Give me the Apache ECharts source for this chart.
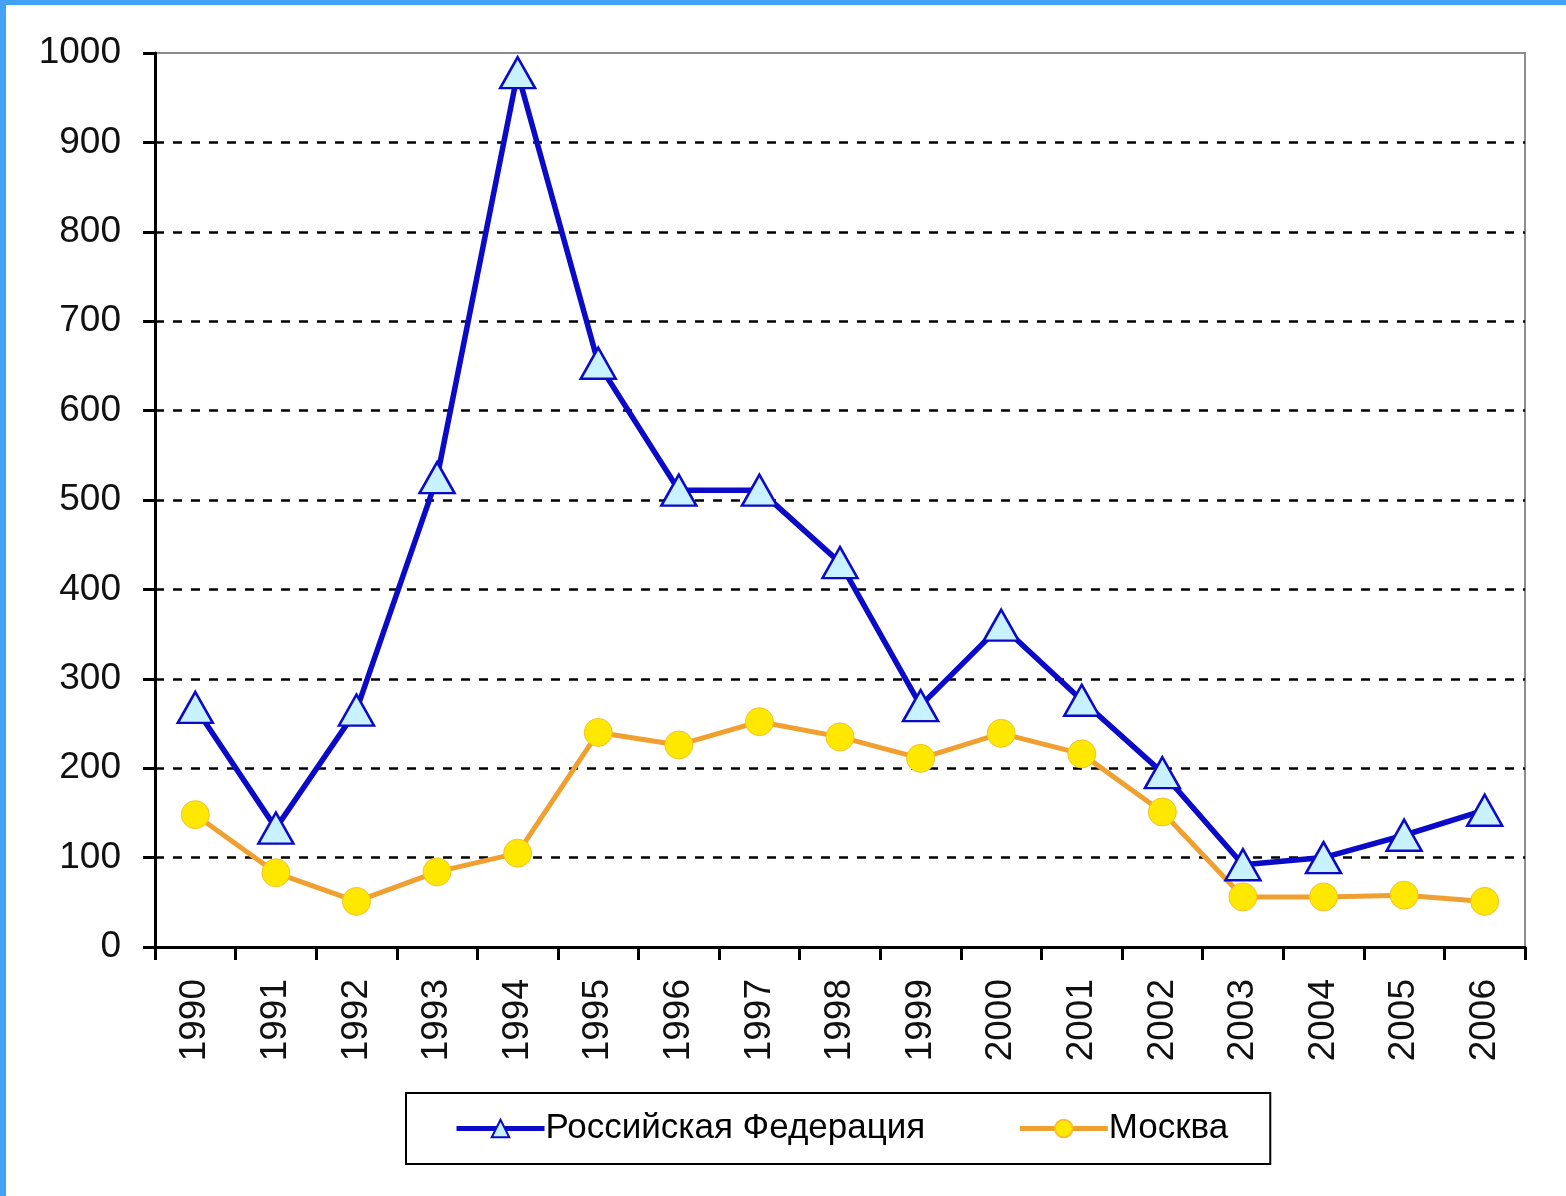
<!DOCTYPE html>
<html>
<head>
<meta charset="utf-8">
<script src="https://cdn.jsdelivr.net/npm/echarts@6/dist/echarts.min.js"></script>
<style>
  html, body { margin: 0; padding: 0; background: #fff; }
  #chart { width: 1566px; height: 1196px; }
</style>
</head>
<body>
<div id="chart"></div>
<script>
const years = ['1990','1991','1992','1993','1994','1995','1996','1997','1998','1999','2000','2001','2002','2003','2004','2005','2006'];
const russia = [268, 133, 265, 525, 978, 653, 511, 511, 430, 270, 360, 276, 195, 92, 100, 125, 153];
const moscow = [148, 83, 51, 84, 105, 240, 226, 252, 235, 211, 239, 216, 151, 56, 56, 58, 51];
const seriesNames = ['Российская Федерация', 'Москва'];

const chart = echarts.init(document.getElementById('chart'));
const font = 'Liberation Sans, Arial, sans-serif';

const option = {
  animation: false,
  backgroundColor: '#fff',
  graphic: [
    { type: 'rect', left: 0, top: 0, shape: { width: 6, height: 1196 }, style: { fill: '#45a1f5' } },
    { type: 'rect', left: 0, top: 0, shape: { width: 1566, height: 5 }, style: { fill: '#45a1f5' } }
  ],
  grid: {
    left: 155, right: 41, top: 53, bottom: 249,
    show: true, borderColor: '#8c8c8c', borderWidth: 2, backgroundColor: '#fff'
  },
  legend: {
    data: seriesNames,
    left: 406, top: 1093,
    padding: [18, 42, 18, 48],
    itemGap: 92,
    itemWidth: 88, itemHeight: 22,
    borderColor: '#000', borderWidth: 2,
    lineStyle: { width: 5 },
    textStyle: { fontFamily: font, fontSize: 35, color: '#000', padding: [0, 0, 0, -4] }
  },
  xAxis: {
    type: 'category',
    data: years,
    boundaryGap: true,
    axisLine: { lineStyle: { color: '#000', width: 3 } },
    axisTick: { show: true, length: 13, lineStyle: { color: '#000', width: 3 } },
    axisLabel: { rotate: 90, margin: 32, fontFamily: font, fontSize: 37, color: '#111' }
  },
  yAxis: {
    type: 'value',
    min: 0, max: 1000, interval: 100,
    axisLine: { show: true, lineStyle: { color: '#000', width: 3 } },
    axisTick: { show: true, length: 12, lineStyle: { color: '#000', width: 3 } },
    axisLabel: { margin: 34, fontFamily: font, fontSize: 37, color: '#111', formatter: v => String(v) },
    splitLine: { show: true, showMaxLine: false, lineStyle: { color: '#000', width: 2.5, type: [9, 9] } }
  },
  series: [
    {
      name: seriesNames[0],
      type: 'line',
      data: russia,
      symbol: 'triangle',
      symbolSize: [35, 31],
      lineStyle: { color: '#0a0ac8', width: 5.5 },
      itemStyle: { color: '#c8f2ff', borderColor: '#0a0ac8', borderWidth: 2.5 },
      z: 3
    },
    {
      name: seriesNames[1],
      type: 'line',
      data: moscow,
      symbol: 'circle',
      symbolSize: 28,
      lineStyle: { color: '#efa030', width: 5 },
      itemStyle: { color: '#ffe800', borderColor: '#f5c030', borderWidth: 1 },
      z: 2
    }
  ]
};

chart.setOption(option);
</script>
</body>
</html>
